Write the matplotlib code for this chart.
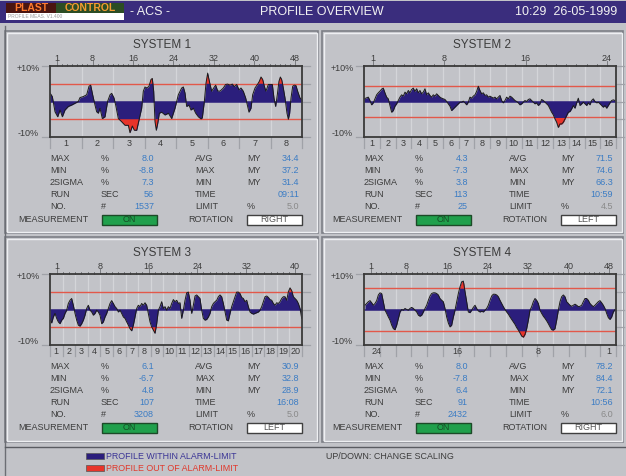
import numpy as np
import matplotlib
matplotlib.use("Agg")
import matplotlib.pyplot as plt
from matplotlib.patches import Rectangle

plt.rcParams["font.family"] = ["Liberation Sans", "DejaVu Sans"]

W, H = 626, 476

# colours
BG = "#c2c3c8"
NAVY = "#2b1e7c"
RED = "#e8342a"
RED_LINE = "#e2584a"
TXT = "#3c3c3c"
BLUE = "#3b7cc4"
GREY_VAL = "#8a8a8a"
GRID = "#d4d5d9"
GRID_OUT = "#a0a2a8"
FS = 6.5

# ---- profile data (deviation in %, position in top-axis units) ----
sys1_pos = [-0.40, 0.06, 0.59, 1.12, 1.58, 2.04, 2.56, 3.22, 3.88, 4.54, 5.20, 5.53, 6.19, 6.85,
            7.31, 7.64, 8.03, 8.49, 8.82, 9.15, 9.48, 9.94, 10.47, 10.98, 11.46, 11.79, 12.25,
            12.58, 13.10, 13.76, 14.42, 15.08, 15.41, 15.87, 16.27, 16.73, 17.19, 17.71, 18.04,
            18.37, 18.77, 19.16, 19.56, 19.82, 20.09, 20.35, 20.61, 20.88, 21.21, 21.67, 22.33,
            22.99, 23.64, 24.30, 24.96, 25.62, 25.95, 26.28, 26.61, 27.07, 27.46, 27.93, 28.39,
            28.91, 29.44, 29.70, 30.10, 30.43, 30.76, 31.09, 31.55, 31.94, 32.34, 32.73, 33.19,
            33.85, 34.31, 34.71, 35.17, 35.63, 36.03, 36.49, 36.95, 37.34, 37.80, 38.27, 38.66,
            38.92, 39.32, 39.65, 40.11, 40.64, 40.97, 41.30, 41.63, 41.96, 42.28, 42.74, 43.14,
            43.54, 43.86, 44.19, 44.52, 44.85, 45.12, 45.38, 45.71, 46.04, 46.43, 46.70, 46.96,
            47.23, 47.56, 47.88, 48.21, 48.54, 49.00, 49.40]
sys1_dev = [2.4, 1.4, -2.9, -4.3, -2.4, -4.3, -2.4, -1.4, -1.0, -0.5, 0.0, 1.1, 1.4, 1.9, 4.3,
            4.6, 1.9, -1.0, -2.9, -3.3, -1.9, -4.8, -4.3, 0.0, 1.9, 2.3, 1.0, -1.0, -4.8, -5.7,
            -6.7, -6.7, -8.8, -6.9, -8.1, -8.1, -5.2, -1.9, 2.9, 4.1, 3.8, 4.3, 6.2, 6.5, 2.9,
            -5.7, -8.1, -6.2, -3.3, -3.0, -3.8, -3.3, -4.8, -1.9,
            1.9, 3.8, 4.1, 2.4, -1.4, -1.0, -2.4, -1.9, -3.3, -4.3, -4.9, -4.6, 0.0, 5.2, 8.0,
            5.7, 2.9, 3.8, 4.6, 3.0, 2.9, 3.8, 4.8, 4.9, 4.6, 4.9, 4.2, 4.8, 3.3, 3.8, 2.9, 1.0,
            -1.4, -3.0, -1.9, 1.9, 3.8, 4.9, 5.7, 6.9, 6.2, 4.3, 2.9, 4.8, 4.8, 4.8, 1.0, -1.4,
            1.9, 5.7, 6.9, 6.2, 3.8, 1.0, -3.3, -5.0, -3.3, 1.0, 4.3, 4.6, 4.5, 2.9, 1.0, 0.5]

sys2_span = (0.03, 24.8)
sys2_dev = [0.75, 0.85, 1.04, 1.23, 0.28, -0.94, -0.38, 0.75, 1.89, 2.45,
            2.92, 3.49, 3.77, 2.45, 1.23, 0.75, -1.13, -3.02, -2.55, -1.32,
            -0.66, 0.28, 1.23, 1.89, 1.51, 2.64, 2.17, 3.11, 2.45, 3.40,
            3.77, 2.83, 3.58, 2.45, 3.11, 2.17, 2.64, 3.58, 1.89, 2.45,
            1.70, 1.23, 1.89, 1.51, 2.17, 1.70, 1.23, 0.94, 0.75, 0.57,
            0.00, -0.66, -1.32, -2.55, -2.08, -1.60, -1.13, -0.66, -0.19, -0.19,
            0.09, -0.38, -0.94, -0.19, 1.23, 0.94, 1.51, 1.89, 2.83, 4.30,
            3.11, 2.17, 2.45, 1.70, 1.89, 1.23, 1.51, 1.23, 0.94, 1.23,
            0.75, 1.23, 1.70, 0.28, -0.38, 0.28, 1.23, 0.75, 1.51, 1.23,
            0.75, 0.28, 0.00, -0.38, -0.94, -0.66, -0.19, 0.28, 0.00, 0.57,
            0.75, 0.28, -0.19, -0.66, -0.38, -1.13, -0.66, 0.57, 0.28, -0.19,
            -0.66, -1.13, -2.08, -3.02, -3.77, -4.91, -5.85, -7.30, -6.32, -6.32,
            -5.85, -4.91, -3.96, -3.02, -2.83, -2.08, -1.13, -1.89, -0.38, 0.94,
            -1.13, -0.66, -0.19, -0.66, -1.13, -0.38, -0.94, 0.28, 0.75, 0.00,
            -0.38, -0.19, -0.66, -1.13, -1.60, -1.13, -1.89, -1.13, -0.38, 0.28,
            0.47, 0.28]

sys3_span = (-0.15, 41.1)
sys3_dev = [-2.5, -3.8, -2.1, -1.1, -2.5, -3.5, -4.0, -3.0, -2.5, -1.1,
            -0.2, 1.7, 2.6, 3.1, 1.2, -1.1, -3.0, -4.4, -4.7, -4.0,
            -3.0, -1.6, 0.3, 1.2, -0.2, -0.7, -1.6, -1.1, -0.2, -0.7,
            -1.6, -4.0, -3.5, -2.1, -1.1, 0.3, 1.7, 2.5, 1.7, 0.8,
            0.3, -0.7, -0.2, -1.1, -2.1, -2.5, -3.5, -4.4, -5.4, -6.0,
            -4.4, -2.1, 0.3, 1.2, 0.8, 1.7, 1.2, 1.9, 1.2, -1.1,
            -3.5, -4.9, -5.8, -6.7, -4.0, -0.2, 0.8, 2.2, 0.3, 0.8,
            -0.2, 0.8, 0.3, 1.7, 2.8, 2.2, 2.6, 1.7, 1.9,
            -2.5, -0.2, 2.6, 4.7, 4.9, 2.6, -1.1, 1.2, 3.8, 4.1,
            3.6, 3.1, -0.2, -2.5, -3.0, -2.8, -2.1, -1.1, 0.8, 1.7,
            2.2, 2.6, 3.6, 4.1, 3.6, 1.7, -0.7, -3.0, -3.2, -1.1,
            0.8, 2.2, 3.6, 4.9, 4.9, 4.5, 3.4, 3.1, 2.2, 2.6,
            0.8, -0.7, -1.1, -1.3, -1.1, -0.9, -0.7, -0.2, 0.8, 2.2,
            3.6, 3.8, 3.4, 2.8, 2.6, 1.7, 1.2, 1.9, 1.7, 2.2,
            3.1, 3.6, 3.6, 2.6, 5.0, 6.1, 5.3, 3.6, 3.1, 2.6,
            1.7, 0.3, -2.5]

sys4_span = (-0.2, 49.2)
sys4_dev = [1.2, 1.7, 2.2, 2.5, 1.9, 1.2, 1.7, 2.5, 4.1, 4.7,
            4.5, 2.2, -0.2, -1.1, -2.1, -3.0, -4.4, -5.4, -5.7, -4.4,
            -2.5, -0.7, 0.0, -0.2, 0.3, 0.0, -0.2, 0.3, 0.6, 0.3,
            -0.2, -0.7, -1.6, -1.9, -1.6, -0.7, 0.3, 1.2, 2.6, 3.8,
            4.5, 4.7, 4.7, 4.5, 4.1, 3.1, 2.6, 2.2, 0.3, -2.1,
            -3.8, -4.9, -4.4, -2.1, -0.2, 2.2, 4.5, 6.4, 7.8, 8.0,
            5.0, 2.2, -0.7, -0.9, -0.2, 0.6, 1.2, 0.3, -0.4, -0.7,
            -0.5, -0.7, -0.2, 0.3, 1.2, 2.6, 3.8, 4.3, 4.3, 4.1,
            3.6, 2.6, 1.7, 0.8, 0.0, -0.7, -1.3, -2.1, -2.8, -3.5,
            -4.2, -5.1, -5.8, -6.6, -7.5, -7.8, -7.0, -5.4, -3.0, -0.2,
            0.8, 2.2, 3.1, 2.6, 1.7, -0.2, -1.1, -1.9, -2.5, -3.2,
            -4.0, -4.9, -5.7, -5.8, -5.4, -3.0, -0.2, 2.2, 3.6, 4.1,
            3.6, 2.2, 1.7, 1.2, 0.9, 1.2, 1.5, 1.2, 0.8, 0.9,
            1.2, 2.2, 3.1, 3.1, 2.6, 1.7, 1.2, 0.8, 1.2, 1.7,
            2.2, 2.5, 1.9, 1.2, 0.3, -1.1, -2.3, -2.8, -2.1, -0.7,
            0.0]

# ---- panel texts ----
limits = [5.0, 4.5, 5.0, 6.0]
rotation = ["RIGHT", "LEFT", "LEFT", "RIGHT"]
left_names = ["MAX", "MIN", "2SIGMA", "RUN", "NO."]
left_units = ["%", "%", "%", "SEC", "#"]
right_names = ["AVG", "MAX", "MIN", "TIME", "LIMIT"]
right_units = ["MY", "MY", "MY", "", "%"]
left_vals = [["8.0", "-8.8", "7.3", "56", "1537"],
             ["4.3", "-7.3", "3.8", "113", "25"],
             ["6.1", "-6.7", "4.8", "107", "3208"],
             ["8.0", "-7.8", "6.4", "91", "2432"]]
right_vals = [["34.4", "37.2", "31.4", "09:11", "5.0"],
              ["71.5", "74.6", "66.3", "10:59", "4.5"],
              ["30.9", "32.8", "28.9", "16:08", "5.0"],
              ["78.2", "84.4", "72.1", "10:56", "6.0"]]
top_counts = [48, 24, 40, 48]
top_labels = [[1, 8, 16, 24, 32, 40, 48], [1, 8, 16, 24],
              [1, 8, 16, 24, 32, 40], [1, 8, 16, 24, 32, 40, 48]]
sections = [8, 16, 20, 16]
sector_labels = [list(range(1, 9)), list(range(1, 17)), list(range(1, 21)), [24, 16, 8, 1]]

xlims = [(-0.4, 49.4), (0.1, 24.9), (-0.15, 41.15), (-0.4, 49.4)]
boxes = [(50, 66), (364, 66), (50, 274), (364, 274)]
panels = [(5, 31, 318, 233), (322, 31, 623, 233), (5, 237, 318, 442), (322, 237, 623, 442)]
title_x = [162, 482, 162, 482]
BW, BH = 252, 71

fig = plt.figure(figsize=(W / 100, H / 100), dpi=100)
fig.patch.set_facecolor(BG)
bg = fig.add_axes([0, 0, 1, 1])
bg.set_xlim(0, W)
bg.set_ylim(H, 0)
bg.axis("off")

# header
bg.add_patch(Rectangle((0, 1), W, 22, color="#3a2d7d", lw=0))
bg.add_patch(Rectangle((6, 3), 50, 10, color="#4a1510", lw=0))
bg.add_patch(Rectangle((56, 3), 68, 10, color="#2c4d24", lw=0))
bg.add_patch(Rectangle((6, 13), 118, 7, color="white", lw=0))
bg.text(31, 8.3, "PLAST", color="#ff7a2e", fontsize=7.5, fontweight="bold", ha="center", va="center")
bg.text(90, 8.3, "CONTROL", color="#f59a30", fontsize=7.5, fontweight="bold", ha="center", va="center")
bg.text(8, 16.7, "PROFILE MEAS. V1.400", color="#9a9a9a", fontsize=3.5, va="center")
bg.text(130, 12, "- ACS -", color="#f2f2f2", fontsize=9, va="center")
bg.text(322, 12, "PROFILE OVERVIEW", color="#f2f2f2", fontsize=9, ha="center", va="center")
bg.text(617, 12, "10:29  26-05-1999", color="#f2f2f2", fontsize=9, ha="right", va="center")

# outer frame
bg.plot([5, 5], [26, H], color="#6c6e74", lw=1)
bg.plot([5, W], [447, 447], color="#5a5c62", lw=1)

for i in range(4):
    x0, y0, x1, y1 = panels[i]
    bg.add_patch(Rectangle((x0, y0), x1 - x0, y1 - y0, fc=BG, ec="#7d7f86", lw=1.2))
    bg.add_patch(Rectangle((x0 + 1.5, y0 + 1.5), x1 - x0 - 3, y1 - y0 - 3, fc="none", ec="#eeeff2", lw=1.0))

    bx, by = boxes[i]
    bg.text(title_x[i], by - 21, f"SYSTEM {i + 1}", color=TXT, fontsize=8.5, ha="center", va="center")
    bg.text(bx - 22, by + 2.5, "+10%", color=TXT, fontsize=FS, ha="center", va="center")
    bg.text(bx - 22, by + BH - 4, "-10%", color=TXT, fontsize=FS, ha="center", va="center")
    for yy in (by, by + BH):
        bg.plot([bx - 8, bx], [yy, yy], color=GRID_OUT, lw=0.9)
    for k in range(5):
        yy = by + k * BH / 4
        bg.plot([bx + BW, bx + BW + 8], [yy, yy], color=GRID_OUT, lw=0.9)

    # statistics
    for k in range(5):
        yy = by + BH + 21.5 + 12.1 * k
        bg.text(bx, yy, left_names[k], color=TXT, fontsize=FS, va="center")
        bg.text(bx + 51, yy, left_units[k], color=TXT, fontsize=FS, va="center")
        bg.text(bx + 104, yy, left_vals[i][k], color=BLUE, fontsize=FS, ha="right", va="center")
        bg.text(bx + 145, yy, right_names[k], color=TXT, fontsize=FS, va="center")
        bg.text(bx + 197, yy, right_units[k], color=TXT, fontsize=FS, va="center")
        bg.text(bx + 249, yy, right_vals[i][k], color=GREY_VAL if k == 4 else BLUE,
                fontsize=FS, ha="right", va="center")
    yy = by + BH + 82.3
    bg.text(bx - 32, yy, "MEASUREMENT", color=TXT, fontsize=FS, va="center")
    bg.add_patch(Rectangle((bx + 52, yy - 4.8), 55, 10, fc="#20a04c", ec="#1c4a28", lw=1))
    bg.text(bx + 79.5, yy + 0.3, "ON", color="#164d26", fontsize=FS, ha="center", va="center")
    bg.text(bx + 138, yy, "ROTATION", color=TXT, fontsize=FS, va="center")
    bg.add_patch(Rectangle((bx + 197, yy - 4.8), 55, 10, fc="white", ec="#404040", lw=1))
    bg.text(bx + 224.5, yy + 0.3, rotation[i], color="#555555", fontsize=FS, ha="center", va="center")

# legend
bg.add_patch(Rectangle((86, 453), 18, 6, fc=NAVY, ec="#555", lw=0.5))
bg.add_patch(Rectangle((86, 465), 18, 6, fc=RED, ec="#555", lw=0.5))
bg.text(106, 456.5, "PROFILE WITHIN ALARM-LIMIT", color="#3b3596", fontsize=6.4, va="center")
bg.text(106, 468.5, "PROFILE OUT OF ALARM-LIMIT", color="#e0392c", fontsize=6.4, va="center")
bg.text(326, 456.5, "UP/DOWN: CHANGE SCALING", color=TXT, fontsize=6.4, va="center")

profiles = [
    (np.array(sys1_pos), np.array(sys1_dev)),
    (np.linspace(sys2_span[0], sys2_span[1], len(sys2_dev)), np.array(sys2_dev)),
    (np.linspace(sys3_span[0], sys3_span[1], len(sys3_dev)), np.array(sys3_dev)),
    (np.linspace(sys4_span[0], sys4_span[1], len(sys4_dev)), np.array(sys4_dev)),
]

for i in range(4):
    bx, by = boxes[i]
    ax = fig.add_axes([bx / W, 1 - (by + BH) / H, BW / W, BH / H])
    x0, x1 = xlims[i]
    ax.set_xlim(x0, x1)
    ax.set_ylim(-10, 10)
    ax.patch.set_alpha(0)
    ax.set_xticks([])
    ax.set_yticks([])
    for s in ax.spines.values():
        s.set_color("#3a3a3a")
        s.set_linewidth(1.3)
        s.set_zorder(6)
    uy = 20 / BH

    bounds = np.linspace(x0, x1, sections[i] + 1)
    for b in bounds[1:-1]:
        ax.axvline(b, color=GRID, lw=0.9, zorder=0)
    for b in bounds:
        ax.plot([b, b], [-10, -10 - 11 * uy], color=GRID_OUT, lw=0.9, clip_on=False)
    if i < 3:
        centers = (bounds[:-1] + bounds[1:]) / 2
        for c, lab in zip(centers, sector_labels[i]):
            ax.text(c, -10 - 6 * uy, str(lab), color=TXT, fontsize=FS, ha="center", va="center")
    else:
        for lab in sector_labels[i]:
            ax.text(50 - 2 * lab, -10 - 6 * uy, str(lab), color=TXT, fontsize=FS,
                    ha="center", va="center")

    for t in range(1, top_counts[i] + 1):
        ln = 5 if t in top_labels[i] else 2.5
        ax.plot([t, t], [10, 10 + ln * uy], color="#7a7c80", lw=0.7, clip_on=False)
    for t in top_labels[i]:
        ax.text(t, 10 + 7.5 * uy, str(t), color=TXT, fontsize=FS, ha="center", va="center")

    x, v = profiles[i]
    lim = limits[i]
    ax.axhline(0, color=NAVY, lw=1.1, zorder=1.5)
    ax.axhline(lim, color=RED_LINE, lw=1.0, zorder=1.8)
    ax.axhline(-lim, color=RED_LINE, lw=1.0, zorder=1.8)
    ax.fill_between(x, 0, v, color=NAVY, lw=0, zorder=2)
    ax.fill_between(x, lim, v, where=v > lim, interpolate=True, color=RED, lw=0, zorder=3)
    ax.fill_between(x, -lim, v, where=v < -lim, interpolate=True, color=RED, lw=0, zorder=3)
    ax.plot(x, v, color="#1b1b1b", lw=0.7, zorder=4)

fig.savefig("out.png", dpi=100, facecolor=BG)
